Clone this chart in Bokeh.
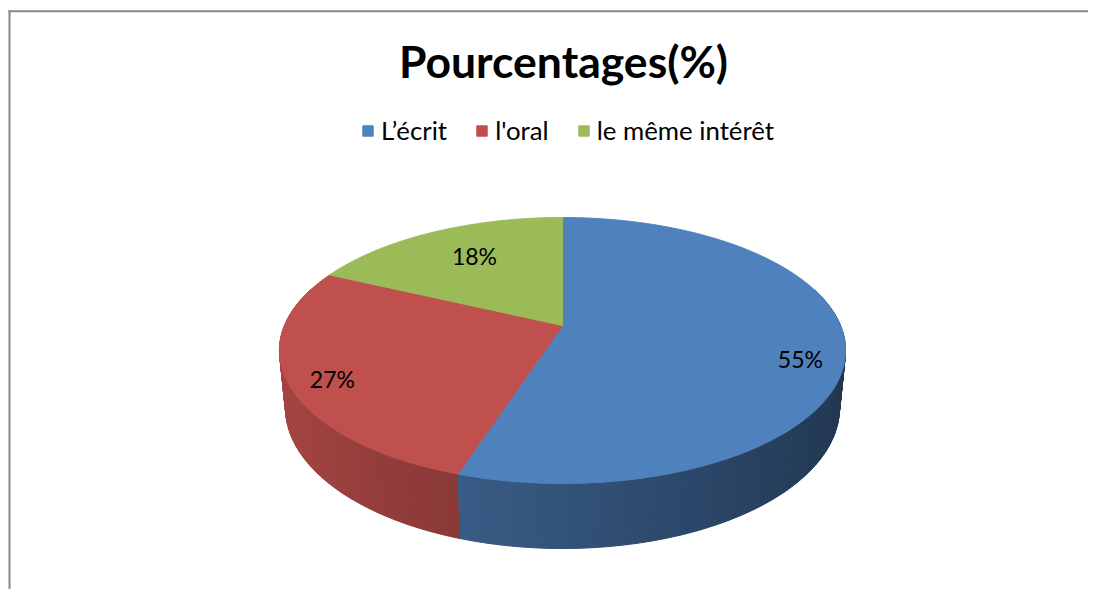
import numpy as np
from bokeh.plotting import figure
from bokeh.models import ColumnDataSource, Range1d, Legend, LegendItem
from bokeh.core.properties import value
from bokeh.embed import file_html
from bokeh.resources import INLINE

# ---------------- data ----------------
categories = ["L\u2019écrit", "l'oral", "le même intérêt"]
values = [55, 27, 18]
pct_labels = ["55%", "27%", "18%"]
title_text = "Pourcentages(%)"

# ---------------- style / layout ----------------
colors = ["#4F81BD", "#C0504D", "#9BBB59"]
FONT = "Lato"
W, H = 1088, 589

# perspective geometry of the 3D pie (pixels)
CX = 562.0
A = 278.0
K = 0.188
D = -67.2
T_TOP = 325.0
W_BOT = 1.021
T_BOT = 389.3
LABEL_R = [0.845, 0.845, 0.652]
LABEL_DY = [16.0, 8.0, -5.0]
BORDER_X, BORDER_Y = 9, 10.7


def proj(u, v, bottom=False):
    w = K * v + (W_BOT if bottom else 1.0)
    t = T_BOT if bottom else T_TOP
    x = CX + A * u / w
    y = (D * v + t) / w
    return x, y


def shade(hexcol, f):
    h = hexcol.lstrip("#")
    r, g, b = (int(h[i:i + 2], 16) for i in (0, 2, 4))
    return "#%02x%02x%02x" % tuple(int(max(0, min(255, round(c * f)))) for c in (r, g, b))


total = float(sum(values))
fr = np.array(values) / total
ends = np.cumsum(fr)
starts = ends - fr

p = figure(width=W, height=H, x_range=Range1d(0, W), y_range=Range1d(H, 0),
           output_backend="svg", toolbar_location=None, min_border=0,
           x_axis_location=None, y_axis_location=None)
p.grid.visible = False
p.outline_line_color = None
p.background_fill_color = "white"
p.border_fill_color = "white"

# ---------- chart border (left and top edges of the chart area) ----------
p.segment(x0=[BORDER_X, BORDER_X - 1], y0=[BORDER_Y - 1, BORDER_Y],
          x1=[BORDER_X, W], y1=[H, BORDER_Y], line_color="#868686", line_width=2)

# ---------- side walls ----------
strips = []
for i in range(len(values)):
    a0, a1 = starts[i] * 2 * np.pi, ends[i] * 2 * np.pi
    n = max(2, int(np.degrees(a1 - a0)))
    th = np.linspace(a0, a1, n + 1)
    for j in range(n):
        t0, t1 = th[j], th[j + 1]
        tm = 0.5 * (t0 + t1)
        um, vm = np.sin(tm), np.cos(tm)
        if vm > 0.3:
            continue
        xa, ya = proj(np.sin(t0), np.cos(t0))
        xb, yb = proj(np.sin(t1), np.cos(t1))
        xc, yc = proj(np.sin(t1), np.cos(t1), True)
        xd, yd = proj(np.sin(t0), np.cos(t0), True)
        f = 0.641 - 0.228 * um
        strips.append((vm, [xa, xb, xc, xd], [ya, yb, yc, yd], shade(colors[i], f)))
strips.sort(key=lambda s: -s[0])
side_src = ColumnDataSource(dict(xs=[s[1] for s in strips], ys=[s[2] for s in strips],
                                 c=[s[3] for s in strips]))
p.patches("xs", "ys", source=side_src, fill_color="c", line_color="c", line_width=1)

# ---------- top faces ----------
txs, tys = [], []
for i in range(len(values)):
    a0, a1 = starts[i] * 2 * np.pi, ends[i] * 2 * np.pi
    n = max(8, int(np.degrees(a1 - a0) * 2))
    th = np.linspace(a0, a1, n + 1)
    xs, ys = proj(np.sin(th), np.cos(th))
    cx0, cy0 = proj(0.0, 0.0)
    txs.append([cx0] + list(xs))
    tys.append([cy0] + list(ys))
top_src = ColumnDataSource(dict(xs=txs, ys=tys, c=colors, label=categories))
top_r = p.patches("xs", "ys", source=top_src, fill_color="c", line_color="c", line_width=1)

# ---------- labels ----------
lx, ly = [], []
for i in range(len(values)):
    tm = (starts[i] + fr[i] / 2) * 2 * np.pi
    r = LABEL_R[i]
    x, y = proj(r * np.sin(tm), r * np.cos(tm))
    lx.append(x)
    ly.append(y + LABEL_DY[i])
p.text(lx, ly, text=pct_labels, text_font=value(FONT), text_font_size="23px",
       text_align="center", text_baseline="middle", text_color="black")

# ---------- title ----------
p.text([CX + 1], [60], text=[title_text], text_font=value(FONT),
       text_font_size="44.5px", text_font_style="bold", text_align="center",
       text_baseline="middle", text_color="black")

# ---------- legend ----------
items = [LegendItem(label=categories[i], renderers=[top_r], index=i) for i in range(len(values))]
legend = Legend(items=items, orientation="horizontal", location=(361, 444),
                glyph_width=13, glyph_height=13, label_standoff=7, spacing=28,
                padding=0, margin=0, border_line_color=None, background_fill_alpha=0,
                label_text_font=FONT, label_text_font_size="25.8px", label_text_color="black")
p.add_layout(legend)

open("out.html", "w").write(file_html(p, INLINE))
